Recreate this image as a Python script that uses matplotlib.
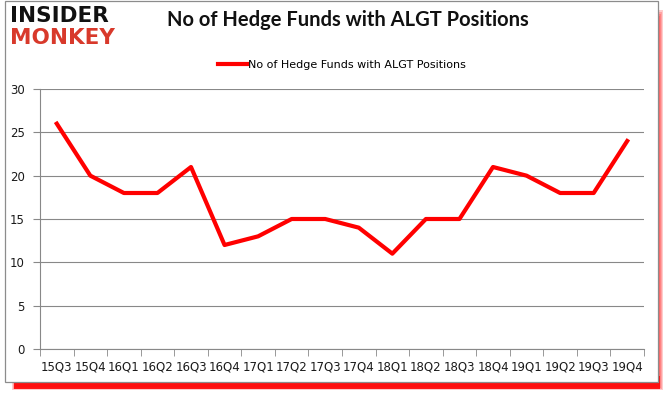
from matplotlib import pyplot as plt
from matplotlib.patches import Rectangle

quarters = ['15Q3', '15Q4', '16Q1', '16Q2', '16Q3', '16Q4', '17Q1', '17Q2',
            '17Q3', '17Q4', '18Q1', '18Q2', '18Q3', '18Q4', '19Q1', '19Q2',
            '19Q3', '19Q4']
funds = [26, 20, 18, 18, 21, 12, 13, 15, 15, 14, 11, 15, 15, 21, 20, 18, 18, 24]
y_ticks = [0, 5, 10, 15, 20, 25, 30]
series_name = 'No of Hedge Funds with ALGT Positions'


def px_rect(x0, y0, x1, y1, **kw):
    W, H = 665, 393
    return Rectangle((x0 / W, 1 - y1 / H), (x1 - x0) / W, (y1 - y0) / H, **kw)


def main():
    fig = plt.figure(figsize=(6.65, 3.93), dpi=100)

    # soft shadow on the right, strong red band at the bottom
    for k in range(4):
        fig.patches.append(px_rect(12 + k, 10 + 2 * k, 663 - k, 390 - k,
                                   transform=fig.transFigure,
                                   facecolor='#ff0000', edgecolor='none',
                                   alpha=0.2, zorder=0))
    fig.patches.append(px_rect(14, 376, 660, 389, transform=fig.transFigure,
                               facecolor='#ff0000', edgecolor='none',
                               alpha=0.85, zorder=0))
    fig.patches.append(px_rect(5, 1, 658, 382, transform=fig.transFigure,
                               facecolor='white', edgecolor='#8c8c8c',
                               linewidth=0.9, zorder=1))

    W, H = 665, 393
    ax = fig.add_axes([40 / W, 1 - 349 / H, 604 / W, 260 / H])
    ax.set_zorder(2)
    ax.patch.set_alpha(0)
    x = list(range(len(quarters)))
    ax.plot(x, funds, color='#ff0000', linewidth=3, label=series_name)
    ax.set_xlim(-0.5, len(quarters) - 0.5)
    ax.set_ylim(0, 30)
    ax.set_yticks(y_ticks)
    ax.set_xticks(x)
    ax.set_xticklabels(quarters)
    ax.set_xticks([i - 0.5 for i in range(len(quarters) + 1)], minor=True)
    ax.tick_params(axis='x', which='major', length=0, pad=8,
                   labelsize=8.5, labelcolor='#1a1a1a')
    ax.tick_params(axis='x', which='minor', length=5, color='#888888')
    ax.tick_params(axis='y', length=5, color='#888888', pad=6,
                   labelsize=8.5, labelcolor='#1a1a1a')
    ax.grid(axis='y', color='#888888', linewidth=0.8)
    ax.set_axisbelow(True)
    for side in ['top', 'right']:
        ax.spines[side].set_visible(False)
    for side in ['left', 'bottom']:
        ax.spines[side].set_color('#888888')
        ax.spines[side].set_linewidth(0.8)

    ax.legend(loc='lower center', bbox_to_anchor=(0.5, 1.035), frameon=False,
              fontsize=8, handlelength=2.6, handletextpad=0.1)

    fig.text(348 / W, 1 - 20 / H, 'No of Hedge Funds with ALGT Positions',
             ha='center', va='center', fontsize=14.5, fontweight='bold',
             family='Lato', color='#111111', zorder=3)
    fig.text(10 / W, 1 - 16 / H, 'INSIDER', fontsize=15.5, fontweight='heavy',
             family='DejaVu Sans', color='#111111', va='center', zorder=3)
    fig.text(10 / W, 1 - 38 / H, 'MONKEY', fontsize=15.5, fontweight='heavy',
             family='DejaVu Sans', color='#d8392b', va='center', zorder=3)

    fig.savefig('out.png', dpi=100)


if __name__ == '__main__':
    main()
